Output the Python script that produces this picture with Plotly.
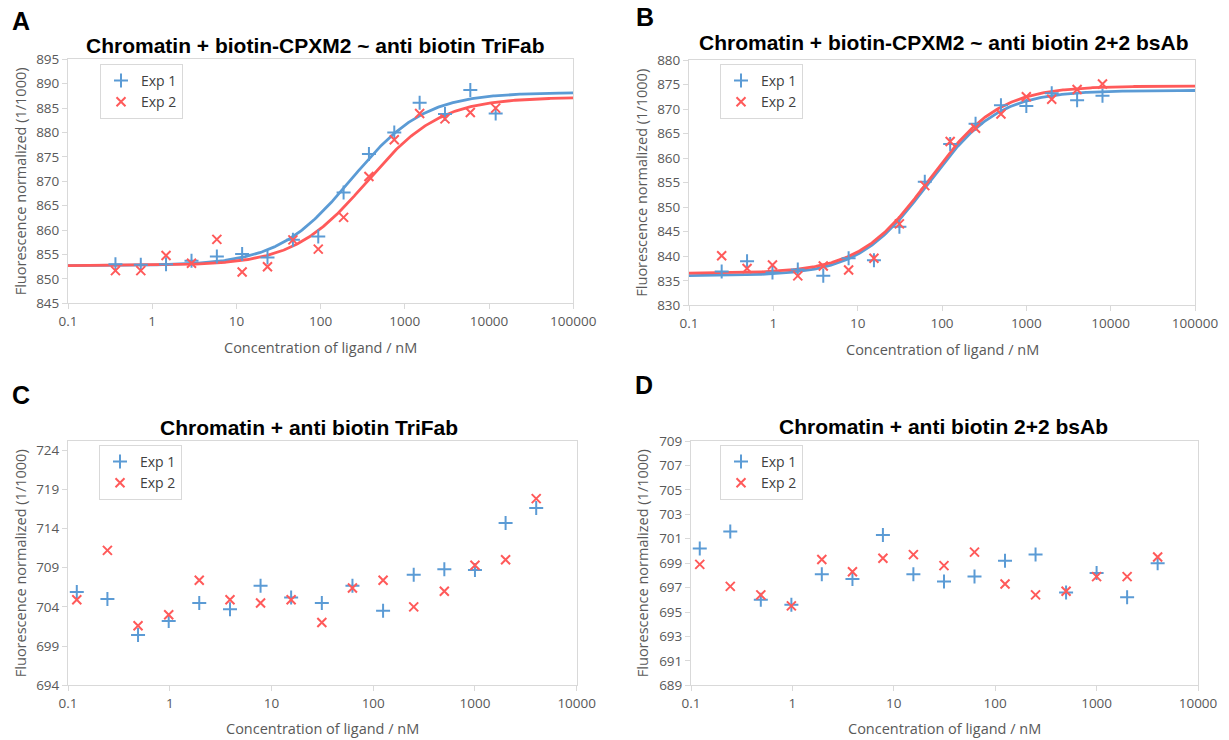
import numpy as np
import plotly.graph_objects as go

W, H = 1229, 740

# ---------------- data ----------------
conc_A = [0.366, 0.732, 1.46, 2.93, 5.86, 11.7, 23.4, 46.9, 93.8, 187.5, 375, 750, 1500, 3000, 6000, 12000]
A_exp1 = [853.0, 852.9, 853.0, 853.7, 854.6, 855.1, 854.4, 858.0, 858.7, 867.7, 875.6, 880.0, 886.1, 883.8, 888.7, 883.9]
A_exp2 = [851.7, 851.7, 854.8, 853.2, 858.1, 851.4, 852.5, 858.0, 856.1, 862.6, 871.0, 878.5, 883.9, 882.8, 884.1, 885.0]
# fit parameters (bottom, top, EC50 nM, hill)
A_fit1 = (852.7, 888.2, 232.0, 1.0)
A_fit2 = (852.7, 887.2, 355.0, 1.0)

conc_B = [0.244, 0.488, 0.977, 1.95, 3.91, 7.81, 15.6, 31.25, 62.5, 125, 250, 500, 1000, 2000, 4000, 8000]
B_exp1 = [836.9, 839.0, 836.7, 837.3, 836.0, 839.6, 839.2, 846.0, 855.2, 862.9, 867.0, 870.8, 870.6, 873.2, 871.8, 872.7]
B_exp2 = [840.1, 837.5, 838.2, 836.0, 838.0, 837.2, 839.6, 846.6, 854.4, 863.4, 866.1, 869.0, 872.5, 872.0, 874.0, 875.1]
B_fit1 = (836.0, 873.8, 69.0, 1.05)
B_fit2 = (836.5, 874.7, 70.0, 1.05)

conc_CD = [0.122, 0.244, 0.488, 0.977, 1.95, 3.91, 7.81, 15.6, 31.25, 62.5, 125, 250, 500, 1000, 2000, 4000]
C_exp1 = [705.9, 705.0, 700.4, 702.2, 704.5, 703.7, 706.7, 705.2, 704.5, 706.7, 703.5, 708.1, 708.8, 708.7, 714.7, 716.6]
C_exp2 = [704.9, 711.2, 701.6, 703.0, 707.4, 704.9, 704.5, 704.9, 702.0, 706.4, 707.4, 704.0, 706.0, 709.3, 710.0, 717.8]
D_exp1 = [700.2, 701.6, 696.0, 695.6, 698.1, 697.7, 701.3, 698.1, 697.5, 697.9, 699.2, 699.7, 696.6, 698.2, 696.2, 699.0]
D_exp2 = [698.9, 697.1, 696.4, 695.5, 699.3, 698.3, 699.4, 699.7, 698.8, 699.9, 697.3, 696.4, 696.7, 697.9, 697.9, 699.5]

ticks_AB = [0.1, 1, 10, 100, 1000, 10000, 100000]
ticklabels_AB = ["0.1", "1", "10", "100", "1000", "10000", "100000"]
ticks_CD = [0.1, 1, 10, 100, 1000, 10000]
ticklabels_CD = ["0.1", "1", "10", "100", "1000", "10000"]

titles = ["Chromatin + biotin-CPXM2 ~ anti biotin TriFab",
          "Chromatin + biotin-CPXM2 ~ anti biotin 2+2 bsAb",
          "Chromatin + anti biotin TriFab",
          "Chromatin + anti biotin 2+2 bsAb"]
letters = ["A", "B", "C", "D"]
series_names = ["Exp 1", "Exp 2"]

BLUE = "#5B9BD5"
RED = "#FF5A5A"
GRID = "#D9D9D9"
TXT = "#595959"
FONT = "Open Sans"


def hill(x, p):
    b, t, ec, n = p
    x = np.asarray(x, dtype=float)
    return b + (t - b) * x ** n / (ec ** n + x ** n)


fig = go.Figure()

# plot areas in pixels (left, right, top, bottom)
boxes = [(68.0, 573.2, 59.3, 303.3), (689.0, 1195.0, 60.0, 305.3),
         (68.0, 576.7, 441.0, 685.3), (691.0, 1198.0, 441.0, 685.3)]
yranges = [(845, 895, 845, 5), (830, 880, 830, 5), (694, 725.15, 694, 5), (689, 709, 689, 2)]
xranges = [(-1, 5), (-1, 5), (-1, 4), (-1, 4)]
legend_pos = [(100, 64), (720, 64), (99, 445), (720, 445)]
title_pos = [(315, 45), (944, 43), (309, 427), (944, 426)]
letter_pos = [(20.5, 21), (645, 16.5), (20.5, 394.5), (644, 384.5)]
xtitle_gap = [44, 44, 43, 43]

scatter_sets = [(conc_A, A_exp1, A_exp2), (conc_B, B_exp1, B_exp2),
                (conc_CD, C_exp1, C_exp2), (conc_CD, D_exp1, D_exp2)]
fits = [(A_fit1, A_fit2), (B_fit1, B_fit2), None, None]

for i in range(4):
    k = "" if i == 0 else str(i + 1)
    xa, ya = "x" + k, "y" + k
    leg = "legend" + k
    conc, e1, e2 = scatter_sets[i]
    if fits[i] is not None:
        xs = np.logspace(xranges[i][0], xranges[i][1], 400)
        for p, col in zip(fits[i], [BLUE, RED]):
            fig.add_trace(go.Scatter(x=xs, y=hill(xs, p), mode="lines",
                                     line=dict(color=col, width=2.8),
                                     showlegend=False, xaxis=xa, yaxis=ya,
                                     hoverinfo="skip"))
    fig.add_trace(go.Scatter(x=conc, y=e1, mode="markers", name=series_names[0],
                             marker=dict(symbol="cross-thin-open", size=10,
                                         line=dict(color=BLUE, width=2), color=BLUE),
                             xaxis=xa, yaxis=ya, legend=leg))
    fig.add_trace(go.Scatter(x=conc, y=e2, mode="markers", name=series_names[1],
                             marker=dict(symbol="x-thin-open", size=9,
                                         line=dict(color=RED, width=2), color=RED),
                             xaxis=xa, yaxis=ya, legend=leg))

    l, r, t, b = boxes[i]
    y0, y1, yt0, ydt = yranges[i]
    tv = ticks_AB if i < 2 else ticks_CD
    tt = ticklabels_AB if i < 2 else ticklabels_CD
    xaxis = dict(type="log", range=list(xranges[i]), domain=[l / W, r / W],
                 anchor=ya, tickvals=tv, ticktext=tt, showgrid=False,
                 showline=True, linecolor=GRID, linewidth=1, mirror=True,
                 ticks="outside", ticklen=5, tickcolor=GRID, zeroline=False,
                 automargin=False,
                 tickfont=dict(family=FONT, size=13.5, color=TXT))
    yaxis = dict(range=[y0, y1], domain=[1 - b / H, 1 - t / H], anchor=xa,
                 tick0=yt0, dtick=ydt, showgrid=False, showline=True,
                 linecolor=GRID, linewidth=1, mirror=True, ticks="outside",
                 ticklen=5, tickcolor=GRID, zeroline=False, automargin=False,
                 tickfont=dict(family=FONT, size=13.5, color=TXT))
    fig.layout["xaxis" + k] = xaxis
    fig.layout["yaxis" + k] = yaxis

    lx, ly = legend_pos[i]
    fig.layout[leg] = dict(x=lx / W, y=1 - ly / H, xanchor="left", yanchor="top",
                           xref="paper", yref="paper",
                           bgcolor="white", bordercolor=GRID, borderwidth=1,
                           font=dict(family=FONT, size=14, color="#404040"),
                           itemwidth=30, tracegroupgap=0)

    tx, ty = title_pos[i]
    fig.add_annotation(x=tx / W, y=1 - ty / H, xref="paper", yref="paper",
                       text="<b>" + titles[i] + "</b>", showarrow=False,
                       xanchor="center", yanchor="middle",
                       font=dict(family="Liberation Sans", size=21, color="black"))
    lx2, ly2 = letter_pos[i]
    fig.add_annotation(x=lx2 / W, y=1 - ly2 / H, xref="paper", yref="paper",
                       text="<b>" + letters[i] + "</b>", showarrow=False,
                       xanchor="center", yanchor="middle",
                       font=dict(family="Liberation Sans", size=25, color="black"))
    # axis titles
    fig.add_annotation(x=((l + r) / 2) / W, y=1 - (b + xtitle_gap[i]) / H,
                       xref="paper", yref="paper",
                       text="Concentration of ligand / nM", showarrow=False,
                       xanchor="center", yanchor="middle",
                       font=dict(family=FONT, size=14.5, color=TXT))
    ax_x = 20 if i % 2 == 0 else 642
    fig.add_annotation(x=ax_x / W, y=1 - ((t + b) / 2) / H, xref="paper", yref="paper",
                       text="Fluorescence normalized (1/1000)", showarrow=False,
                       textangle=-90, xanchor="center", yanchor="middle",
                       font=dict(family=FONT, size=14.5, color=TXT))

fig.update_layout(width=W, height=H, autosize=False,
                  margin=dict(l=0, r=0, t=0, b=0, autoexpand=False),
                  paper_bgcolor="white", plot_bgcolor="white")

fig.write_html("out.html",
               config={"displayModeBar": False},
               post_script="document.body.style.margin='0';"
                           "document.body.style.padding='0';"
                           "document.body.style.overflow='hidden';")
